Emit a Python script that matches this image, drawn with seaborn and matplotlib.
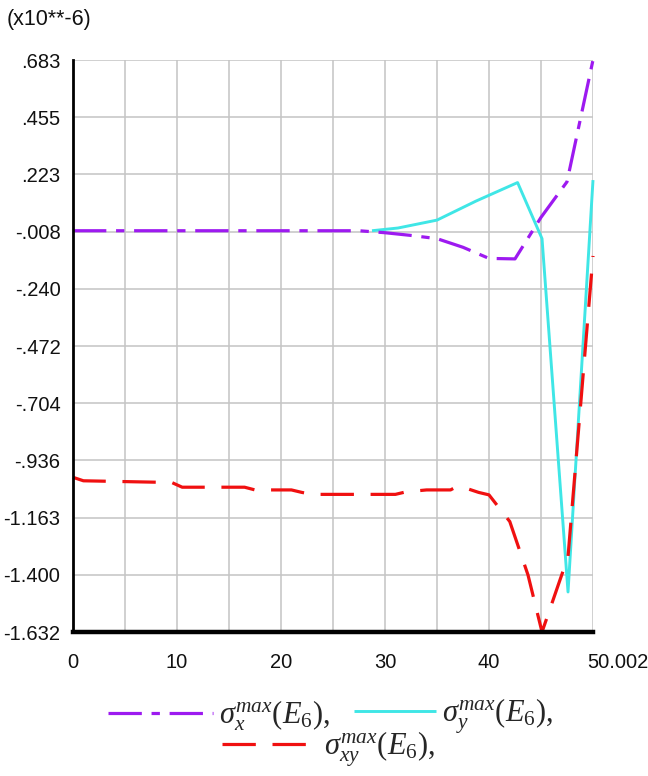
import numpy as np
import pandas as pd
import matplotlib
matplotlib.use("Agg")
import matplotlib.pyplot as plt
import matplotlib.transforms as mtransforms
import seaborn as sns

# ---------------- data ----------------
sx_x = [0, 27.5, 30, 32.5, 35, 37.5, 40, 42.5, 45, 47.5, 50.002]
sx_y = [-0.008, -0.008, -0.016, -0.027, -0.040, -0.075, -0.120, -0.122, 0.046, 0.190, 0.683]

sy_x = [28.75, 31.25, 35, 38.75, 42.75, 45.1, 47.6, 50.002]
sy_y = [-0.008, 0.003, 0.035, 0.112, 0.187, -0.040, -1.470, 0.197]

sxy_x = [0, 1, 9.5, 10.5, 16.5, 17.5, 21, 22, 23, 31, 32, 34, 36.3, 36.8, 37.5,
         39, 40, 42, 43.75, 45.1, 47.6, 50.002]
sxy_y = [-1.006, -1.020, -1.027, -1.046, -1.046, -1.057, -1.057, -1.067, -1.075,
         -1.075, -1.065, -1.057, -1.057, -1.046, -1.046, -1.067, -1.077, -1.185,
         -1.401, -1.632, -1.327, -0.110]

x_ticks = [0, 10, 20, 30, 40, 50.002]
x_tick_labels = ["0", "10", "20", "30", "40", "50.002"]
x_minor = [5, 15, 25, 35, 45]
y_tick_labels = [".683", ".455", ".223", "-.008", "-.240", "-.472", "-.704",
                 "-.936", "-1.163", "-1.400", "-1.632"]
y_max, y_min = 0.683, -1.632

labels = [r"$\sigma_x^{max}(E_6),$", r"$\sigma_y^{max}(E_6),$", r"$\sigma_{xy}^{max}(E_6),$"]

# ---------------- style ----------------
sns.set_style("white")
plt.rcParams["font.family"] = ["Liberation Sans", "DejaVu Sans"]
plt.rcParams["mathtext.fontset"] = "custom"
plt.rcParams["mathtext.it"] = "Liberation Serif:italic"
plt.rcParams["mathtext.rm"] = "Liberation Serif"
plt.rcParams["mathtext.bf"] = "Liberation Serif:bold"
plt.rcParams["lines.scale_dashes"] = False

PURPLE = "#9D1AF0"
CYAN = "#3FE6E6"
RED = "#F01010"

fig = plt.figure(figsize=(6.48, 7.76), dpi=100)
W, H = 648, 776
ax = fig.add_axes([73 / W, 1 - 632 / H, (593 - 73) / W, (632 - 60) / H])

df_x = pd.DataFrame({"x": sx_x, "y": sx_y})
df_y = pd.DataFrame({"x": sy_x, "y": sy_y})
df_xy = pd.DataFrame({"x": sxy_x, "y": sxy_y})

sns.lineplot(data=df_y, x="x", y="y", ax=ax, color=CYAN, linewidth=2.1,
             estimator=None, sort=False, zorder=3)
sns.lineplot(data=df_xy, x="x", y="y", ax=ax, color=RED, linewidth=2.3,
             estimator=None, sort=False, zorder=4, dashes=False)
sns.lineplot(data=df_x, x="x", y="y", ax=ax, color=PURPLE, linewidth=2.3,
             estimator=None, sort=False, zorder=5, dashes=False)

lines = ax.get_lines()
l_cyan, l_red, l_purple = lines[0], lines[1], lines[2]
l_red.set_dashes([24, 12])
l_purple.set_dashes([24, 7, 6, 7])
for l in lines:
    l.set_clip_on(False)
    l.set_solid_capstyle("butt")
    l.set_dash_capstyle("butt")

ax.set_xlim(0, 50.002)
ax.set_ylim(y_min, y_max)
ax.set_xticks(x_ticks)
ax.set_xticklabels(x_tick_labels)
ax.set_xticks(x_minor, minor=True)
yt = np.linspace(y_max, y_min, len(y_tick_labels))
ax.set_yticks(yt)
ax.set_yticklabels(y_tick_labels)
ax.set_xlabel("")
ax.set_ylabel("")

grid_c = "#C4C4C4"
ax.grid(True, which="both", color=grid_c, linewidth=1.1, zorder=0)
ax.set_axisbelow(True)
ax.tick_params(axis="x", which="both", length=8, width=1.1, color=grid_c,
               direction="out", labelsize=14.5, pad=7, labelcolor="#111111")
ax.tick_params(axis="y", which="both", length=0, labelsize=14.5, pad=9,
               labelcolor="#111111")

# last x label sits to the right of its tick
last = ax.get_xticklabels()[-1]
last.set_horizontalalignment("left")
last.set_transform(last.get_transform() +
                   mtransforms.ScaledTranslation(-6 / 100, 0, fig.dpi_scale_trans))

for s in ["top", "right"]:
    ax.spines[s].set_visible(False)
ax.spines["left"].set_color("black")
ax.spines["left"].set_linewidth(2.0)
ax.spines["bottom"].set_color("black")
ax.spines["bottom"].set_linewidth(3.2)
ax.spines["left"].set_zorder(6)
ax.spines["bottom"].set_zorder(6)

fig.text(7 / W, 1 - 20 / H, "(x10**-6)", fontsize=15.5, ha="left", va="center",
         color="#111111")

# ---------------- legend ----------------
fs = 22
def add_leg(handle, label, x_px, y_px, hl):
    leg = fig.legend([handle], [label], loc="center left",
                     bbox_to_anchor=(x_px / W, 1 - y_px / H),
                     frameon=False, fontsize=fs, handlelength=hl,
                     handletextpad=0.2, borderpad=0, borderaxespad=0)
    return leg

add_leg(l_purple, labels[0], 108, 716, 3.43)
add_leg(l_cyan, labels[1], 354, 716, 2.68)
add_leg(l_red, labels[2], 222, 749, 3.14)

fig.savefig("out.png", dpi=100)
